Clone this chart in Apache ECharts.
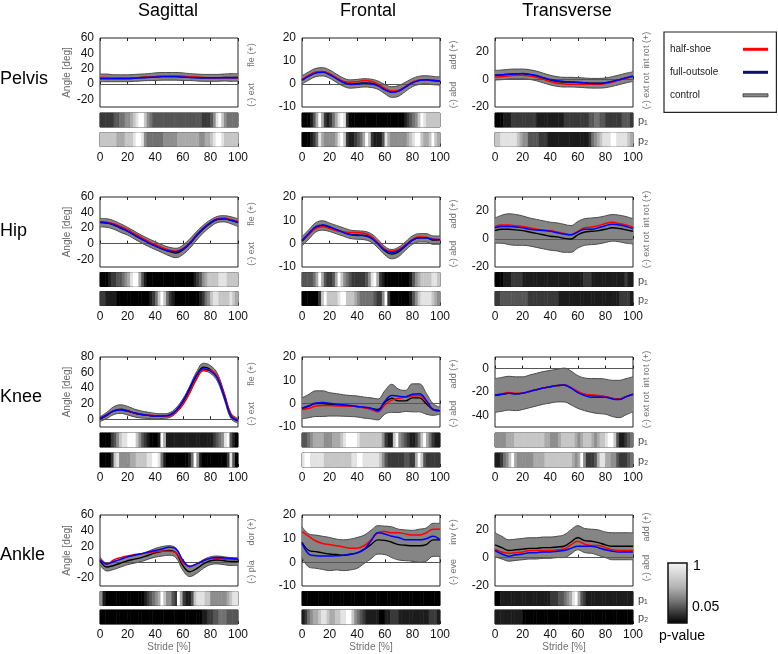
<!DOCTYPE html>
<html><head><meta charset="utf-8">
<script src="https://cdn.jsdelivr.net/npm/echarts@6/dist/echarts.min.js"></script>
<style>html,body{margin:0;padding:0;background:#fff}#c{width:778px;height:654px}</style>
</head><body><div id="c"></div>
<script>
// ---------- DATA ----------
const stride = [0,5,10,15,20,25,30,35,40,45,50,55,60,65,70,75,80,85,90,95,100];
const strideTicks = [0,20,40,60,80,100];
const seriesNames = ['half-shoe','full-outsole','control'];

// Pelvis
const pelvisSagControl = [8,8,7.5,7.5,7.5,8,8.5,9,9.5,10,10,10,9.5,9,8.5,8,8,8,8.5,8.5,8.5];
const pelvisSagSD      = [5,5,4.5,4.5,4.5,4.5,4.5,4.5,5,5,5,5,5,4.5,4.5,4.5,4.5,4.5,4.5,5,5];
const pelvisSagHalf    = [8.5,8.5,8,7.5,7.5,8,8.5,9,9.5,10,10.5,10.5,10,9.5,9,8.5,8,8,8,8,8];
const pelvisSagFull    = [7,7,7,7,7,7.5,8,8.5,9,9.5,9.5,9.5,9,8.5,8,8,8,8,8,8,8.5];
const pelvisFroControl = [1.8,3.5,5,5.3,4.3,2.5,0.8,0,0.2,0.5,0.3,-0.5,-2.2,-3.5,-3,-1.2,0.6,1.6,1.8,1.5,1.3];
const pelvisFroSD      = [1.8,1.8,1.8,1.8,1.8,1.8,1.8,1.8,1.8,1.8,1.8,1.8,2,2.3,2.3,2,1.8,1.8,1.8,1.8,1.8];
const pelvisFroHalf    = [2,3.8,5.2,5.4,4.4,2.8,1.2,0.8,1,1.5,1.2,0,-1.8,-3,-2.7,-1,0.8,1.7,1.9,1.6,1.4];
const pelvisFroFull    = [1.6,3.4,4.8,5.1,4,2.3,0.6,-0.2,0,0.3,0,-0.8,-2.5,-3.6,-3.1,-1.3,0.5,1.5,1.8,1.5,1.3];
const pelvisTraControl = [3,3.3,3.8,4,4,3.5,2.5,1,-0.5,-1.5,-2,-2,-2.2,-2.5,-2.8,-2.8,-2.5,-1.5,-0.3,1,2];
const pelvisTraSD      = [3.5,3.5,3.5,3.5,3.5,3.5,3.5,3.5,3.5,3.5,3.5,3.5,3.5,3.5,3.5,3.5,3.5,3.5,3.5,3.5,3.5];
const pelvisTraHalf    = [1.5,2,2.5,3,3,2.5,1.5,0,-1.5,-2.8,-3.3,-3.5,-3.5,-3.5,-3.5,-3.5,-3,-2,-0.5,0.8,2];
const pelvisTraFull    = [3,3.3,3.8,4,4.2,3.8,2.8,1.3,0,-1,-1.5,-1.8,-2,-2.5,-3,-3,-2.5,-1.5,-0.2,1.2,2.5];
// Hip
const hipSagControl = [27,26.5,24,20,16,11,6,1.5,-2.5,-6.5,-10,-12,-8,0,10,19,26,31,32,30,27];
const hipSagSD      = [5.5,5.5,5.5,5.5,5,5,5,5,5,5,5.5,6,6,6,5.5,5,4.5,4,4,4.5,5];
const hipSagHalf    = [28,27.5,25.5,22,18,13,8,3,-1,-5,-8,-9.5,-6.5,1,11,20,27,32,33,31,28.5];
const hipSagFull    = [28,27,24.5,20.5,16,11,6,1,-3,-7,-9.5,-10.5,-7,0.5,11,20,27,31.5,32,30,27.5];
const hipFroControl = [1,4,7,7.8,7,6,5,4,3.7,3.5,2.5,0,-3,-4.5,-3.5,-1,1.5,2.5,2.5,1.5,1.5];
const hipFroSD      = [2,2,2,2,1.8,1.8,1.8,1.8,1.8,1.8,1.8,1.8,1.8,2,2,1.8,1.8,1.8,1.8,1.8,1.8];
const hipFroHalf    = [1.5,4,6.5,7.2,6.5,5.5,5,4.8,4.7,4.5,3.2,0.5,-2.3,-3.2,-2.5,-0.5,1.8,3,2.8,2,1.5];
const hipFroFull    = [1.5,4.5,7.3,8,7.3,6,4.8,3.8,3.5,3.5,2.5,0,-2.8,-3.8,-3,-0.8,1.5,2.5,2.5,1.8,1.8];
const hipTraControl = [6,7,7,6.5,6,5,4,3,2,1.5,0.5,0,3,5,5.5,6,7,8,7.5,6.5,5.5];
const hipTraSD      = [9,10,11,11,10.5,10,10,10,10,10,10,9.5,9.5,9.5,9.5,9.5,9.5,9.5,9.5,9.5,9];
const hipTraHalf    = [9,10,10,9.5,9,8,7,6.5,6,5,4,3,5.5,8,8.5,9.5,11,12,11,10,8.5];
const hipTraFull    = [8,9,9,8.5,8,7,6.5,6,5.5,4.5,3.5,3,5,7,7,8,9.5,10.5,10,9,7.5];
// Knee
const kneeSagControl = [0,5,11,13,11,8,6,5,4,4,5,11,22,38,56,67,64,54,30,4,-2];
const kneeSagSD      = [3,4,5,5.5,5.5,5,4.5,4,3.5,3,3,3.5,4,4.5,5,5,5,5,4.5,3.5,3];
const kneeSagHalf    = [1,6,11,12,10.5,8,6.5,5.5,4.5,4,4,9,19,34,52,63,63,55,32,6,-1];
const kneeSagFull    = [1,6,10.5,12,10.5,8,6,5,4,4,5,11,23,40,57,65,62,53,30,4,-1.5];
const kneeFroControl = [-2,-1,0,0,-0.3,-0.5,-0.8,-1,-1.2,-1.7,-2,-2.5,0.5,2.3,1.2,1.2,2.5,2.5,0,-2.5,-3];
const kneeFroSD      = [4.5,5,5.5,5.5,5,4.8,4.6,4.5,4.5,4.5,4.5,4.5,5,6,5,4.5,6,6,4.5,2.5,1.5];
const kneeFroHalf    = [-2.5,-2,-1,-0.8,-0.8,-1,-1,-1,-1.3,-1.8,-2.5,-3.5,-0.5,1.5,2.3,2.8,3.3,3.5,1,-2.5,-3];
const kneeFroFull    = [-2,-1,0.3,0.5,0.2,-0.2,-0.5,-0.8,-1.2,-1.5,-2,-3,1,3.5,3.2,3,4,4.2,1.5,-2.5,-3];
const kneeTraControl = [-23,-22,-21,-21.5,-21,-19.5,-18,-16.5,-15.5,-14.5,-14,-16.5,-20,-22,-23,-23.5,-24,-25.5,-26,-24,-22];
const kneeTraSD      = [14.5,14.5,14.5,14.5,14,14,14,14,14,14,14.5,14.5,14,14,14.5,15,15,15.5,16,15.5,15];
const kneeTraHalf    = [-22.5,-21.5,-20.5,-21,-21,-19.5,-18,-16.5,-15.5,-14.5,-14,-16,-19.5,-22,-22.5,-23,-24,-25.5,-26,-24,-22];
const kneeTraFull    = [-22.5,-22,-21,-21.5,-21,-19.5,-18,-16.5,-15.5,-14.5,-14,-16.5,-20.5,-23,-24.5,-24.5,-24.5,-26,-26.5,-24,-22];
// Ankle
const ankleSagControl = [2,-6,-4,-1,2,4,6,9,12,14,15,12,-4,-12,-8,-2,2,3,2,1,1];
const ankleSagSD      = [5,5,5,5,5,5,5,5,5.5,6,6,6,6,6,6,5.5,5,5,5,5,5];
const ankleSagHalf    = [4,-2,3,6,8,10,11,12,13.5,14,14,12,0,-5,-2,2,5,5,4,4,4];
const ankleSagFull    = [3,-2,1,4,7,9,11,13,15,17,19,17,3,-5,-2,2,5,6,5.5,5,4];
const ankleFroControl = [8.5,5,4.5,4,3.5,3.3,3,3.3,4,5.5,7.5,9.5,9.3,8.5,7.5,7.2,7,7,7.5,9.5,9.5];
const ankleFroSD      = [6.5,7,7,7,7,6.5,6.5,6.5,6.5,6,6,6,6,6.5,6.5,6.5,6.5,7,7,7,7];
const ankleFroHalf    = [13,11,9,8,7.5,7,6.5,6,6,7,9.5,12.5,13,12.5,12.5,12,11.5,11.5,12.5,14,14];
const ankleFroFull    = [8,3.5,2.8,2.7,2.7,2.8,3,3.5,4,5.5,9,12.5,12,11,10.5,9.5,9.5,9.5,10,11,9.5];
const ankleTraControl = [9,7,5,5.5,6,6.5,6.5,7,7,7.5,8,11,14,12,11.5,10.5,9,8,8,8,8];
const ankleTraSD      = [8.5,8,7.5,7.5,7.5,7.5,7.5,7.5,7.5,7.5,8,8.5,8.5,8.5,8.5,9,9,9.5,9.5,9.5,9.5];
const ankleTraHalf    = [6,4,3,3.5,4,5,5,5,5,5.5,6,9,11.5,9.5,8.5,8.5,7,5.5,5,5,5];
const ankleTraFull    = [5,2.5,1,2,2.5,3.5,3.5,4,4,4.5,5,6.5,8,8,8,7,5.5,4.5,4,4,4];

// p-value shading strips (0 = black / p<0.05 ... 9 = white / p=1), one cell per 2 % of stride
const pelvisSagP1 = [2,2,2,2,2, 3,3,4,4,5, 5,6,7,8,9, 9,7,5,4,3, 3,3,3,3,3, 3,3,3,3,3, 3,3,3,3,3, 3,3,2,2,2, 3,5,8,9,7, 5,4,4,4,4];
const pelvisSagP2 = [7,7,7,7,7, 7,6,6,6,7, 7,7,8,9,9, 8,5,4,4,4, 4,4,4,5,5, 5,5,5,6,6, 6,6,6,6,6, 6,5,5,6,6, 7,8,9,9,8, 7,7,7,7,7];
const pelvisFroP1 = [0,0,0,1,3, 6,9,6,2,1, 2,4,6,8,9, 8,2,0,0,0, 0,0,0,0,0, 0,0,0,0,0, 0,0,0,0,0, 0,0,1,2,3, 4,5,7,9,8, 7,7,7,7,7];
const pelvisFroP2 = [0,0,0,1,2, 4,8,6,5,5, 5,5,6,8,9, 7,2,1,1,2, 3,4,6,9,7, 2,1,1,1,3, 8,6,5,5,5, 5,5,5,6,7, 8,9,9,7,6, 6,7,9,7,6];
const pelvisTraP1 = [0,0,0,1,1, 1,2,2,2,2, 2,2,2,2,2, 1,1,1,1,1, 1,1,1,1,1, 2,2,2,2,2, 2,2,2,2,3, 3,4,4,3,3, 2,2,2,2,2, 2,3,3,3,2];
const pelvisTraP2 = [7,7,8,8,8, 8,8,8,7,6, 5,5,3,3,3, 3,2,2,2,1, 1,1,1,1,1, 1,1,1,1,1, 1,1,1,1,2, 4,5,6,7,8, 8,8,9,9,8, 8,8,8,7,6];
const hipSagP1 = [0,0,0,1,2, 2,3,3,4,5, 6,8,9,9,6, 3,1,0,0,0, 0,0,0,0,0, 0,0,0,0,0, 0,0,0,0,1, 2,3,5,6,7, 7,7,7,8,8, 8,7,7,7,7];
const hipSagP2 = [2,2,1,1,1, 1,0,0,0,0, 0,0,0,0,0, 0,0,0,1,2, 4,7,9,7,4, 2,1,0,0,0, 0,0,0,0,0, 0,1,2,4,5, 7,8,8,7,7, 7,7,8,7,6];
const hipFroP1 = [3,3,3,3,4, 6,9,6,3,2, 2,3,6,9,7, 5,4,3,2,2, 2,2,2,3,5, 8,9,6,2,1, 0,0,0,0,0, 0,0,0,0,1, 3,5,6,7,7, 7,7,8,8,7];
const hipFroP2 = [0,0,0,0,0, 0,2,7,9,7, 7,7,7,8,9, 9,7,7,7,6, 5,4,4,4,4, 4,3,2,2,5, 9,2,0,0,0, 0,0,0,0,1, 3,5,7,8,8, 8,8,7,6,5];
const hipTraP1 = [0,0,0,1,1, 1,2,2,2,2, 1,1,1,1,1, 1,1,1,1,1, 1,1,1,1,1, 1,1,1,1,1, 1,1,2,2,2, 1,1,1,1,1, 1,1,1,1,1, 1,1,2,1,1];
const hipTraP2 = [2,2,3,3,3, 3,3,3,3,3, 3,3,2,2,2, 2,2,2,2,2, 2,2,2,1,1, 1,1,1,1,1, 1,1,1,1,1, 1,1,1,1,1, 1,1,1,1,1, 2,2,2,2,1];
const kneeSagP1 = [0,0,0,0,2, 3,5,7,8,8, 9,9,9,7,5, 3,2,1,0,0, 0,1,9,6,1, 1,1,1,1,1, 1,1,1,1,1, 1,1,1,1,1, 1,2,3,4,5, 8,9,3,1,0];
const kneeSagP2 = [0,0,0,0,2, 7,8,5,5,5, 5,6,6,7,7, 7,7,8,8,9, 9,8,4,1,0, 0,0,0,0,0, 0,0,1,4,9, 5,1,0,0,0, 0,0,0,0,0, 0,2,8,3,0];
const kneeFroP1 = [3,3,4,5,6, 6,6,6,5,5, 5,6,6,6,7, 8,9,9,9,9, 8,7,7,7,7, 7,7,7,7,5, 2,1,1,7,9, 5,4,3,2,1, 1,2,4,7,9, 6,4,2,1,1];
const kneeFroP2 = [8,9,9,8,8, 8,8,8,7,7, 7,7,7,7,7, 7,7,7,8,8, 9,9,8,8,8, 8,8,8,7,5, 3,2,2,2,2, 2,2,3,3,2, 2,6,9,7,3, 2,2,2,2,2];
const kneeTraP1 = [5,5,5,5,6, 6,6,7,7,7, 7,7,7,7,7, 7,7,7,6,6, 5,5,5,6,7, 7,7,7,7,6, 5,6,7,7,7, 6,5,6,7,7, 8,9,9,7,3, 1,1,2,3,4];
const kneeTraP2 = [1,1,2,4,5, 7,9,6,5,5, 5,5,5,5,6, 6,6,6,7,7, 7,7,7,7,7, 7,7,7,6,5, 6,9,5,2,2, 2,3,6,8,8, 6,6,5,5,3, 2,2,2,3,4];
const ankleSagP1 = [5,1,0,0,0, 0,0,0,0,0, 0,0,0,0,0, 0,1,2,3,4, 5,6,9,7,5, 5,3,2,9,6, 2,1,1,3,7, 8,8,8,7,7, 5,5,5,5,5, 5,6,7,8,8];
const ankleSagP2 = [0,0,0,0,0, 0,0,0,0,0, 0,0,0,0,0, 0,0,0,0,0, 0,0,0,0,0, 0,0,0,0,0, 0,0,0,0,0, 0,0,1,1,2, 2,3,3,4,4, 4,3,3,3,3];
const ankleFroP1 = [0,0,0,0,0, 0,0,0,0,0, 0,0,0,0,0, 0,0,0,0,0, 0,0,0,0,0, 0,0,0,0,0, 0,0,0,0,0, 0,0,0,0,0, 0,0,0,0,0, 0,0,0,0,0];
const ankleFroP2 = [1,2,4,5,6, 6,7,8,8,7, 6,6,7,7,8, 8,9,9,7,5, 4,3,2,1,1, 1,1,1,0,0, 1,1,2,2,2, 1,1,1,1,1, 1,1,1,1,1, 1,2,2,2,1];
const ankleTraP1 = [0,0,1,1,1, 1,1,1,1,1, 1,1,1,1,1, 1,1,1,1,1, 2,2,2,3,3, 4,5,6,8,9, 6,3,2,1,1, 1,1,1,1,1, 1,1,1,1,1, 1,1,1,1,1];
const ankleTraP2 = [1,1,1,1,1, 1,1,1,1,1, 0,0,0,0,0, 0,0,0,0,0, 0,0,0,0,0, 0,0,0,0,0, 0,0,0,0,0, 0,0,0,0,0, 0,0,0,0,0, 0,0,0,0,0];

const rowNames = ['Pelvis','Hip','Knee','Ankle'];
const colNames = ['Sagittal','Frontal','Transverse'];

// ---------- LAYOUT ----------
const FF = "'Liberation Sans', Arial, sans-serif";
const colLeft = [100, 302, 495], W = 138;
const rowTop = [38, 197, 357, 515], rowH = [69, 70, 70, 71];
const p1Top = [113, 272.5, 433, 591.5], p2Top = [132.5, 291.5, 453, 610], SH = 14;
const cells = Array.from({length: 50}, (_, i) => i);

const panels = [
  {r:0,c:0,ctrl:pelvisSagControl,sd:pelvisSagSD,half:pelvisSagHalf,full:pelvisSagFull,p1:pelvisSagP1,p2:pelvisSagP2,y:[-30,60],lab:[-20,0,20,40,60],rl:['fle (+)','(-) ext']},
  {r:0,c:1,ctrl:pelvisFroControl,sd:pelvisFroSD,half:pelvisFroHalf,full:pelvisFroFull,p1:pelvisFroP1,p2:pelvisFroP2,y:[-10,20],lab:[-10,0,10,20],rl:['add (+)','(-) abd']},
  {r:0,c:2,ctrl:pelvisTraControl,sd:pelvisTraSD,half:pelvisTraHalf,full:pelvisTraFull,p1:pelvisTraP1,p2:pelvisTraP2,y:[-20,30],lab:[-20,0,20],rl:['int rot (+)','(-) ext rot']},
  {r:1,c:0,ctrl:hipSagControl,sd:hipSagSD,half:hipSagHalf,full:hipSagFull,p1:hipSagP1,p2:hipSagP2,y:[-30,60],lab:[-20,0,20,40,60],rl:['fle (+)','(-) ext']},
  {r:1,c:1,ctrl:hipFroControl,sd:hipFroSD,half:hipFroHalf,full:hipFroFull,p1:hipFroP1,p2:hipFroP2,y:[-10,20],lab:[-10,0,10,20],rl:['add (+)','(-) abd']},
  {r:1,c:2,ctrl:hipTraControl,sd:hipTraSD,half:hipTraHalf,full:hipTraFull,p1:hipTraP1,p2:hipTraP2,y:[-20,30],lab:[-20,0,20],rl:['int rot (+)','(-) ext rot']},
  {r:2,c:0,ctrl:kneeSagControl,sd:kneeSagSD,half:kneeSagHalf,full:kneeSagFull,p1:kneeSagP1,p2:kneeSagP2,y:[-10,80],lab:[0,20,40,60,80],rl:['fle (+)','(-) ext']},
  {r:2,c:1,ctrl:kneeFroControl,sd:kneeFroSD,half:kneeFroHalf,full:kneeFroFull,p1:kneeFroP1,p2:kneeFroP2,y:[-10,20],lab:[-10,0,10,20],rl:['add (+)','(-) abd']},
  {r:2,c:2,ctrl:kneeTraControl,sd:kneeTraSD,half:kneeTraHalf,full:kneeTraFull,p1:kneeTraP1,p2:kneeTraP2,y:[-50,10],lab:[-40,-20,0],rl:['int rot (+)','(-) ext rot']},
  {r:3,c:0,ctrl:ankleSagControl,sd:ankleSagSD,half:ankleSagHalf,full:ankleSagFull,p1:ankleSagP1,p2:ankleSagP2,y:[-30,60],lab:[-20,0,20,40,60],rl:['dor (+)','(-) pla']},
  {r:3,c:1,ctrl:ankleFroControl,sd:ankleFroSD,half:ankleFroHalf,full:ankleFroFull,p1:ankleFroP1,p2:ankleFroP2,y:[-10,20],lab:[-10,0,10,20],rl:['inv (+)','(-) eve']},
  {r:3,c:2,ctrl:ankleTraControl,sd:ankleTraSD,half:ankleTraHalf,full:ankleTraFull,p1:ankleTraP1,p2:ankleTraP2,y:[-20,30],lab:[-20,0,20],rl:['add (+)','(-) abd']}
];

const grid = [], xAxis = [], yAxis = [], series = [], heatIdx = [], graphic = [];
const boxGrid = (left, top, height) => ({left, top, width: W, height, show: true, borderColor: '#222', borderWidth: 1, outerBoundsMode: 'none'});
const lineBase = {type: 'line', smooth: 0.4, symbol: 'none', showSymbol: false, silent: true, emphasis: {disabled: true}, animation: false};
const tick = {show: true, inside: true, length: 3, lineStyle: {color: '#222'}};

panels.forEach((p, pi) => {
  const L = colLeft[p.c];
  const gi = grid.length;
  grid.push(boxGrid(L, rowTop[p.r], rowH[p.r]));
  grid.push(boxGrid(L, p1Top[p.r], SH));
  grid.push(boxGrid(L, p2Top[p.r], SH));
  const xi = xAxis.length;
  xAxis.push({gridIndex: gi, type: 'category', data: stride, boundaryGap: false, position: 'bottom',
    axisLine: {show: false}, axisTick: Object.assign({interval: 3}, tick),
    axisLabel: {show: false}, splitLine: {show: false}});
  xAxis.push({gridIndex: gi + 1, type: 'category', data: cells, show: false});
  xAxis.push({gridIndex: gi + 2, type: 'category', data: cells, show: false, position: 'top'});
  xAxis.push({gridIndex: gi + 2, type: 'value', position: 'bottom', min: 0, max: 100, interval: 20,
    axisLine: {show: false}, axisTick: tick, splitLine: {show: false},
    axisLabel: {fontSize: 12, color: '#111', margin: 5, fontFamily: FF,
      formatter: v => strideTicks.includes(v) ? String(v) : ''}});
  xAxis.push({gridIndex: gi, type: 'category', data: stride, boundaryGap: false, position: 'top',
    axisLine: {show: false}, axisTick: Object.assign({interval: 3}, tick),
    axisLabel: {show: false}, splitLine: {show: false}});
  const yi = yAxis.length;
  yAxis.push({gridIndex: gi, type: 'value', min: p.y[0], max: p.y[1], interval: 10,
    axisLine: {show: false}, axisTick: {show: false}, splitLine: {show: false},
    axisLabel: {fontSize: 12, color: '#111', margin: 6, fontFamily: FF,
      formatter: v => p.lab.includes(v) ? String(v) : ''},
    name: p.c === 0 ? 'Angle [deg]' : '', nameLocation: 'middle', nameGap: 28,
    nameTextStyle: {fontSize: 10, color: '#666', fontFamily: FF}});
  yAxis.push({gridIndex: gi + 1, type: 'category', data: ['p1'], show: false});
  yAxis.push({gridIndex: gi + 2, type: 'category', data: ['p2'], show: false});

  const stack = 'band' + pi;
  series.push(Object.assign({}, lineBase, {name: 'band-low', xAxisIndex: xi, yAxisIndex: yi, stack, stackStrategy: 'all', z: 2,
    lineStyle: {color: '#4a4a4a', width: 1},
    data: p.ctrl.map((v, i) => v - p.sd[i])}));
  series.push(Object.assign({}, lineBase, {name: 'band-high', xAxisIndex: xi, yAxisIndex: yi, stack, stackStrategy: 'all', z: 2,
    lineStyle: {color: '#4a4a4a', width: 1}, areaStyle: {color: '#858585', opacity: 1},
    data: p.sd.map(s => 2 * s)}));
  series.push(Object.assign({}, lineBase, {name: 'control', xAxisIndex: xi, yAxisIndex: yi, z: 4,
    lineStyle: {color: '#000', width: 1.4}, itemStyle: {color: '#808080'},
    markLine: {silent: true, symbol: 'none', z: 3, animation: false, label: {show: false},
      lineStyle: {color: '#555', width: 1, type: 'solid'}, emphasis: {disabled: true}, data: [{yAxis: 0}]},
    data: p.ctrl}));
  series.push(Object.assign({}, lineBase, {name: 'half-shoe', xAxisIndex: xi, yAxisIndex: yi, z: 5,
    lineStyle: {color: '#ff0000', width: 1.5}, itemStyle: {color: '#ff0000'},
    data: p.half}));
  series.push(Object.assign({}, lineBase, {name: 'full-outsole', xAxisIndex: xi, yAxisIndex: yi, z: 6,
    lineStyle: {color: '#0000ff', width: 1.5}, itemStyle: {color: '#0000ff'},
    data: p.full}));
  [p.p1, p.p2].forEach((arr, k) => {
    heatIdx.push(series.length);
    series.push({type: 'heatmap', name: 'p' + (k + 1), xAxisIndex: xi + 1 + k, yAxisIndex: yi + 1 + k,
      silent: true, emphasis: {disabled: true}, animation: false, progressive: 0,
      data: arr.map((v, i) => [i, 0, v])});
  });

  // right side direction labels
  const rx = L + W + 13.5;
  const tra = p.c === 2;
  graphic.push({type: 'text', x: rx, y: rowTop[p.r] + (tra ? 12 : 17), rotation: Math.PI / 2, silent: true,
    style: {text: p.rl[0], fontSize: 9, fontFamily: FF, fill: '#707070', align: 'center', verticalAlign: 'middle'}});
  graphic.push({type: 'text', x: rx, y: rowTop[p.r] + (tra ? 53 : 57), rotation: Math.PI / 2, silent: true,
    style: {text: p.rl[1], fontSize: 9, fontFamily: FF, fill: '#707070', align: 'center', verticalAlign: 'middle'}});
  if (tra) {
    graphic.push({type: 'text', x: L + W + 5, y: p1Top[p.r] + SH / 2 + 1, silent: true,
      style: {text: 'p\u2081', fontSize: 11, fontFamily: FF, fill: '#444', align: 'left', verticalAlign: 'middle'}});
    graphic.push({type: 'text', x: L + W + 5, y: p2Top[p.r] + SH / 2 + 1, silent: true,
      style: {text: 'p\u2082', fontSize: 11, fontFamily: FF, fill: '#444', align: 'left', verticalAlign: 'middle'}});
  }
  if (p.r === 3) {
    graphic.push({type: 'text', x: L + W / 2, y: 647, silent: true,
      style: {text: 'Stride [%]', fontSize: 10, fontFamily: FF, fill: '#707070', align: 'center', verticalAlign: 'middle'}});
  }
});

// titles
const colCenters = [168, 368, 567];
colNames.forEach((t, i) => graphic.push({type: 'text', x: colCenters[i], y: 11, silent: true,
  style: {text: t, fontSize: 18, fontFamily: FF, fill: '#000', align: 'center', verticalAlign: 'middle'}}));
const rowLabelY = [79, 231, 397, 555];
rowNames.forEach((t, i) => graphic.push({type: 'text', x: 0, y: rowLabelY[i], silent: true,
  style: {text: t, fontSize: 18, fontFamily: FF, fill: '#000', align: 'left', verticalAlign: 'middle'}}));

// p-value colour bar
graphic.push({type: 'rect', silent: true, shape: {x: 668, y: 563, width: 19, height: 60},
  style: {fill: new echarts.graphic.LinearGradient(0, 0, 0, 1, [
    {offset: 0, color: '#f6f6f6'}, {offset: 0.4, color: '#b4b4b4'}, {offset: 0.65, color: '#707070'},
    {offset: 0.82, color: '#383838'}, {offset: 1, color: '#000'}]), stroke: '#111', lineWidth: 1.5}});
graphic.push({type: 'text', x: 693, y: 566, silent: true, style: {text: '1', fontSize: 14, fontFamily: FF, fill: '#000', align: 'left', verticalAlign: 'middle'}});
graphic.push({type: 'text', x: 692, y: 607, silent: true, style: {text: '0.05', fontSize: 14, fontFamily: FF, fill: '#000', align: 'left', verticalAlign: 'middle'}});
graphic.push({type: 'text', x: 682, y: 636, silent: true, style: {text: 'p-value', fontSize: 14, fontFamily: FF, fill: '#000', align: 'center', verticalAlign: 'middle'}});

const chart = echarts.init(document.getElementById('c'), null, {renderer: 'canvas'});
chart.setOption({
  animation: false,
  backgroundColor: '#fff',
  textStyle: {fontFamily: FF},
  grid, xAxis, yAxis, series, graphic,
  visualMap: {type: 'continuous', show: false, min: 0, max: 9, seriesIndex: heatIdx,
    inRange: {color: ['#000000', '#ffffff']}},
  legend: {
    orient: 'vertical', left: 664, top: 32, align: 'right', selectedMode: false,
    icon: 'rect', itemWidth: 25, itemHeight: 3, itemGap: 13, padding: [12.3, 8, 12, 6],
    borderColor: '#222', borderWidth: 1.2, backgroundColor: '#fff',
    formatter: name => '{t|' + name + '}',
    textStyle: {fontSize: 10, color: '#222', fontFamily: FF,
      rich: {t: {width: 68, align: 'left', fontSize: 10, lineHeight: 14, color: '#222', fontFamily: FF}}},
    data: [
      {name: 'half-shoe', itemStyle: {color: '#ff0000', borderWidth: 0}},
      {name: 'full-outsole', itemStyle: {color: '#101060', borderWidth: 0}},
      {name: 'control', itemStyle: {color: '#8a8a8a', borderColor: '#333', borderWidth: 0.8}}
    ]
  }
});
</script>
</body></html>
